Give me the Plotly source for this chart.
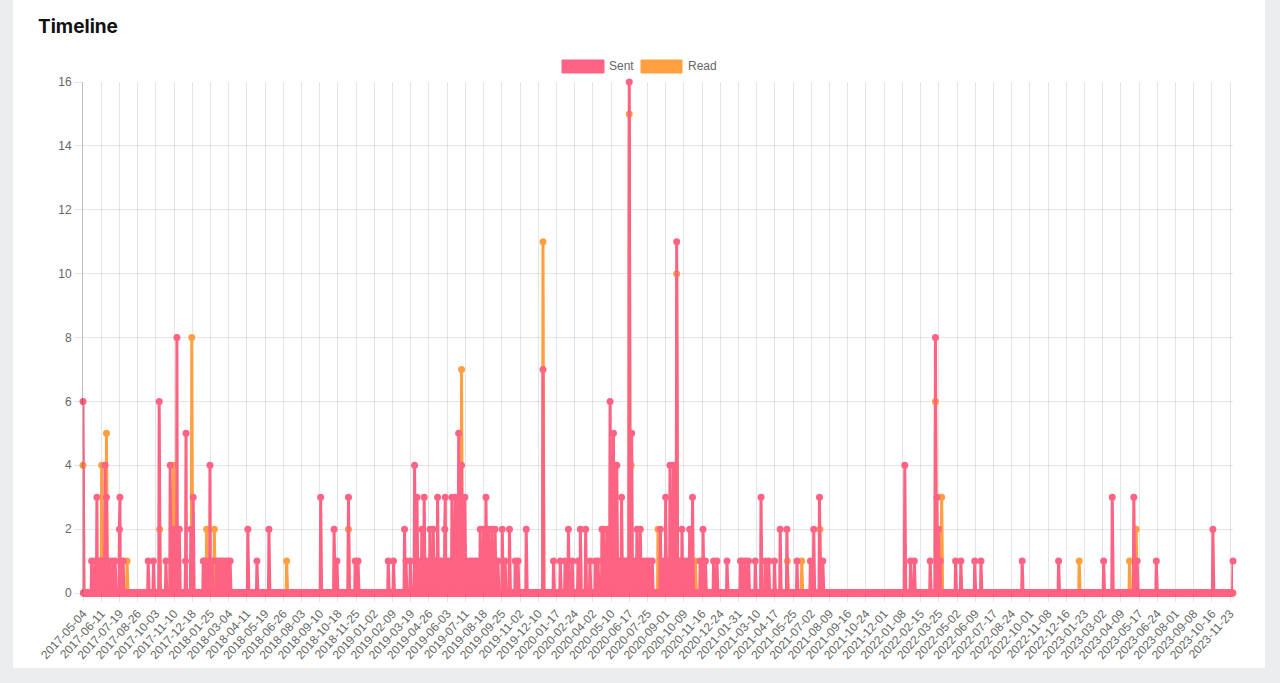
import pandas as pd
import plotly.graph_objects as go

# ---------------- data ----------------
START = "2017-05-04"
END = "2023-11-29"
TICK_STEP_DAYS = 38

# days since START on which something was sent, and how many
sent_day_offsets = [
    0, 18, 25, 29, 32, 36, 39, 46, 49, 55, 62, 67, 76, 77, 80, 84,
    136, 147, 159, 173, 182, 186, 190, 193, 196, 198, 201, 214, 215, 225, 230,
    251, 254, 261, 265, 270, 279, 284, 290, 296, 302, 307,
    344, 363, 388, 496, 524, 530, 554, 568, 574, 637, 648,
    671, 674, 683, 692, 697, 705, 707, 712, 718, 724, 728, 731, 735, 740, 748,
    755, 756, 763, 770, 777, 784, 790, 797, 800, 806, 812, 818, 823,
    829, 833, 836, 841, 846, 850, 853, 860, 866, 875, 881, 890, 902, 908, 925,
    960, 982, 996, 1006, 1013, 1021, 1033, 1038, 1049, 1058, 1069, 1075,
    1083, 1086, 1093, 1100, 1104, 1107, 1111, 1114, 1118, 1124, 1127, 1132, 1136,
    1140, 1145, 1150, 1156, 1163, 1169, 1175, 1181, 1188, 1205, 1210, 1216,
    1220, 1225, 1232, 1236, 1239, 1244, 1250, 1254, 1260, 1266, 1272, 1288, 1294,
    1299, 1316, 1323, 1344, 1372, 1375, 1382, 1389, 1403, 1415, 1424, 1431,
    1443, 1455, 1469, 1490, 1518, 1525, 1537, 1544,
    1715, 1727, 1735, 1768, 1779, 1782, 1785, 1789, 1821, 1832, 1861, 1874,
    1960, 2036, 2130, 2148, 2193, 2200, 2240, 2358, 2400,
]
sent_counts = [
    6, 1, 1, 3, 1, 1, 1, 4, 3, 1, 1, 1, 2, 3, 1, 1,
    1, 1, 6, 1, 4, 2, 2, 2, 8, 1, 2, 1, 5, 2, 3,
    1, 1, 1, 4, 1, 1, 1, 1, 1, 1, 1,
    2, 1, 2, 3, 2, 1, 3, 1, 1, 1, 1,
    2, 1, 1, 4, 3, 1, 2, 3, 1, 2, 1, 2, 1, 3, 1,
    2, 3, 1, 3, 3, 5, 4, 3, 1, 1, 1, 1, 1,
    2, 1, 2, 3, 2, 1, 2, 2, 1, 2, 1, 2, 1, 1, 2,
    7, 1, 1, 1, 2, 1, 1, 2, 2, 1, 1, 1,
    2, 2, 2, 6, 2, 5, 4, 4, 1, 3, 1, 1, 1,
    16, 5, 1, 2, 2, 1, 1, 1, 1, 2, 1, 3,
    1, 4, 4, 1, 11, 1, 2, 1, 1, 2, 3, 1, 2,
    1, 1, 1, 1, 1, 1, 1, 1, 1, 3, 1, 1,
    1, 2, 2, 1, 1, 2, 3, 1,
    4, 1, 1, 1, 8, 3, 2, 1, 1, 1, 1, 1,
    1, 1, 1, 3, 3, 1, 1, 2, 1,
]

# days since START on which something was read, and how many
read_day_offsets = [
    0, 39, 49, 92, 160, 189, 227, 258, 274, 425, 554, 745, 790, 960,
    1140, 1144, 1200, 1239, 1278, 1470, 1500, 1538, 1779, 1792,
    2079, 2184, 2198,
]
read_counts = [
    4, 4, 5, 1, 2, 4, 8, 2, 2, 1, 2, 1, 7, 11,
    15, 4, 2, 10, 1, 1, 1, 2, 6, 3,
    1, 1, 2,
]

SENT_COLOR = "#ff6384"
READ_COLOR = "#ff9f40"

# ---------------- build daily series ----------------
dates = pd.date_range(START, END, freq="D")
sent = [0] * len(dates)
for d, v in zip(sent_day_offsets, sent_counts):
    sent[d] = v
read = [0] * len(dates)
for d, v in zip(read_day_offsets, read_counts):
    read[d] = v

tick_dates = dates[::TICK_STEP_DAYS]
tick_text = [t.strftime("%Y-%m-%d") for t in tick_dates]

fig = go.Figure()
fig.add_trace(go.Scatter(
    x=dates, y=read, mode="lines+markers", name="Read",
    line=dict(color=READ_COLOR, width=3),
    marker=dict(color=READ_COLOR, size=7),
    cliponaxis=False, showlegend=False,
))
fig.add_trace(go.Scatter(
    x=dates, y=sent, mode="lines+markers", name="Sent",
    line=dict(color=SENT_COLOR, width=3),
    marker=dict(color=SENT_COLOR, size=7),
    cliponaxis=False, showlegend=False,
))

W, H = 1280, 683
L, R, T, B = 83, 47, 82, 90
PW, PH = W - L - R, H - T - B


def px(x):
    return (x - L) / PW


def py(y):
    return (H - B - y) / PH


tick_font = dict(family="Liberation Sans, Arial, Helvetica, sans-serif", size=12, color="#666666")
grid = "rgba(0,0,0,0.1)"

fig.update_layout(
    width=W, height=H,
    margin=dict(l=L, r=R, t=T, b=B, autoexpand=False),
    paper_bgcolor="#ebedef",
    plot_bgcolor="rgba(0,0,0,0)",
    xaxis=dict(
        type="date",
        range=[dates[0], dates[-1]],
        tickmode="array", tickvals=list(tick_dates), ticktext=tick_text,
        tickangle=-48, tickfont=tick_font,
        showgrid=True, gridcolor=grid, gridwidth=1,
        ticks="outside", ticklen=8, tickcolor=grid,
        showline=False, zeroline=False, automargin=False,
    ),
    yaxis=dict(
        range=[0, 16], tickmode="array", tickvals=list(range(0, 17, 2)),
        tickfont=tick_font,
        showgrid=True, gridcolor=grid, gridwidth=1,
        ticks="outside", ticklen=8, tickcolor=grid,
        showline=True, linecolor="rgba(0,0,0,0.25)", linewidth=1,
        zeroline=False, automargin=False,
    ),
    shapes=[
        # white card
        dict(type="rect", xref="paper", yref="paper", layer="below",
             x0=px(13), x1=px(1265), y0=py(668), y1=py(-10),
             fillcolor="white", line=dict(width=0)),
        # legend boxes
        dict(type="rect", xref="paper", yref="paper",
             x0=px(562), x1=px(604), y0=py(73), y1=py(60),
             fillcolor=SENT_COLOR, line=dict(color=SENT_COLOR, width=1)),
        dict(type="rect", xref="paper", yref="paper",
             x0=px(641), x1=px(682), y0=py(73), y1=py(60),
             fillcolor=READ_COLOR, line=dict(color=READ_COLOR, width=1)),
    ],
    annotations=[
        dict(text="Timeline", xref="paper", yref="paper", x=px(36), y=py(26),
             xanchor="left", yanchor="middle", showarrow=False,
             font=dict(family="Inter, Lato, sans-serif", size=19, color="#111111", weight="bold")),
        dict(text="Sent", xref="paper", yref="paper", x=px(607), y=py(66.5),
             xanchor="left", yanchor="middle", showarrow=False, font=tick_font),
        dict(text="Read", xref="paper", yref="paper", x=px(686), y=py(66.5),
             xanchor="left", yanchor="middle", showarrow=False, font=tick_font),
    ],
)

fig.write_html(
    "out.html",
    config={"displayModeBar": False},
    post_script="document.body.style.margin='0';document.body.style.background='#ebedef';",
)
